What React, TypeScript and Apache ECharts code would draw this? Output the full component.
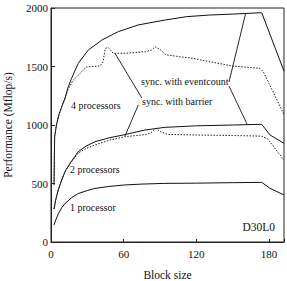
import React, { useEffect, useRef } from "react";
import * as echarts from "echarts";

const proc1: [number, number][] = [
  [2.5, 145], [4, 190], [6, 240], [9, 295], [12, 333], [17, 378], [22.5, 414], [30, 440], [36.3, 458],
  [48, 475], [60, 487], [75, 495], [94, 501], [120, 503], [150, 507], [174, 510], [180.8, 459], [192.4, 402],
];
const proc2Eventcount: [number, number][] = [
  [2.5, 282], [4, 365], [6, 445], [8.8, 530], [12, 610], [15.7, 672], [22.5, 772], [29, 820], [36.3, 857],
  [48, 890], [59.7, 915], [77.6, 957], [94.1, 980], [120, 993], [150, 1000], [174, 1006], [180.8, 915], [192.4, 843],
];
const proc2Barrier: [number, number][] = [
  [2.5, 282], [4, 365], [6, 445], [8.8, 530], [12, 610], [15.7, 668], [22.5, 760], [29, 800], [36.3, 829],
  [48, 870], [61, 900], [78, 918], [82, 930], [87, 972], [90, 945], [96, 920], [117, 915], [150, 910],
  [174, 905], [179, 880], [192.4, 700],
];
const proc4Eventcount: [number, number][] = [
  [2.5, 490], [3, 900], [4.5, 1000], [6.5, 1090], [9, 1160], [11.6, 1228], [14, 1320], [17, 1399],
  [22.5, 1527], [30.8, 1641], [42, 1726], [55.6, 1798], [72, 1855], [94, 1897], [112, 1926], [131, 1940],
  [150, 1948], [174, 1960], [192.4, 1460],
];
const proc4Barrier: [number, number][] = [
  [2.5, 490], [3, 900], [4.5, 1000], [6.5, 1080], [10, 1190], [14, 1300], [18, 1380], [23, 1430], [29, 1495],
  [35, 1500], [40.5, 1505], [43, 1540], [44.8, 1655], [47.3, 1662], [51.4, 1613], [61, 1613], [70, 1620],
  [78, 1627], [83, 1640], [86, 1669], [90, 1645], [95, 1600], [106, 1584], [117, 1570], [131, 1541],
  [150, 1504], [172.6, 1484], [175.3, 1456], [192.4, 1090],
];
const eventcountLeaders: [number, number][][] = [
  [[147, 1368], [160.6, 1949]],
  [[147, 1333], [162, 1005]],
];
const barrierLeaders: [number, number][][] = [
  [[74.9, 1233], [52.8, 1613]],
  [[72.1, 1171], [61.1, 906]],
];
const xTicks = [0, 60, 120, 180];

const FONT = "'Liberation Serif', 'Times New Roman', serif";

export default function App() {
  const ref = useRef<HTMLDivElement>(null);
  useEffect(() => {
    if (!ref.current) return;
    const chart = echarts.init(ref.current, null, { renderer: "svg" });
    const solid = (name: string, data: [number, number][]) => ({
      name, type: "line", data, symbol: "none", silent: true,
      lineStyle: { color: "#111", width: 1 },
    });
    const dotted = (name: string, data: [number, number][]) => ({
      name, type: "line", data, symbol: "none", silent: true,
      lineStyle: { color: "#222", width: 1, type: [1.5, 1.5] },
    });
    const leader = (name: string, data: [number, number][]) => ({
      name, type: "line", data, symbol: "none", silent: true,
      lineStyle: { color: "#111", width: 0.9 },
    });
    const txt = (text: string, x: number, y: number, size = 10, align = "left") => ({
      type: "text", x, y,
      style: { text, fill: "#111", font: `${size}px ${FONT}`, textAlign: align, textVerticalAlign: "middle" },
    });
    chart.setOption({
      animation: false,
      grid: {
        left: 51, right: 3, top: 8, bottom: 39, show: true, borderColor: "#222", borderWidth: 1,
        containLabel: false, outerBoundsMode: "none",
      },
      xAxis: {
        type: "value", min: 0, max: 192.4, interval: 60,
        name: "Block size", nameLocation: "middle", nameGap: 27,
        nameTextStyle: { fontFamily: FONT, fontSize: 11.5, color: "#111" },
        axisLine: { lineStyle: { color: "#222" } },
        axisTick: { inside: true, length: 3, lineStyle: { color: "#222" } },
        axisLabel: {
          margin: 6, fontFamily: FONT, fontSize: 11, color: "#111",
          formatter: (v: number) => (xTicks.includes(v) ? String(v) : ""),
        },
        splitLine: { show: false },
      },
      yAxis: {
        type: "value", min: 0, max: 2000, interval: 500,
        name: "Performance (Mflop/s)", nameLocation: "middle", nameGap: 37,
        nameTextStyle: { fontFamily: FONT, fontSize: 11.5, color: "#111" },
        axisLine: { show: true, lineStyle: { color: "#222" } },
        axisTick: { show: true, inside: true, length: 4, lineStyle: { color: "#222" } },
        axisLabel: { margin: 3, fontFamily: FONT, fontSize: 11, color: "#111", formatter: (v: number) => String(v) },
        splitLine: { show: false },
      },
      series: [
        solid("1 processor", proc1),
        solid("2 processors eventcount", proc2Eventcount),
        dotted("2 processors barrier", proc2Barrier),
        solid("4 processors eventcount", proc4Eventcount),
        dotted("4 processors barrier", proc4Barrier),
        ...eventcountLeaders.map((d, i) => leader("eventcount leader " + i, d)),
        ...barrierLeaders.map((d, i) => leader("barrier leader " + i, d)),
      ],
      graphic: [
        txt("4 processors", 71, 105),
        txt("2 processors", 70, 169),
        txt("1 processor", 70, 207),
        txt("sync. with eventcount", 141, 81),
        txt("sync. with barrier", 142, 101),
        txt("D30L0", 275, 227, 11.5, "right"),
      ],
    });
    return () => chart.dispose();
  }, []);
  return <div ref={ref} style={{ position: "fixed", left: 0, top: 0, width: 287, height: 281, background: "#fff" }} />;
}
